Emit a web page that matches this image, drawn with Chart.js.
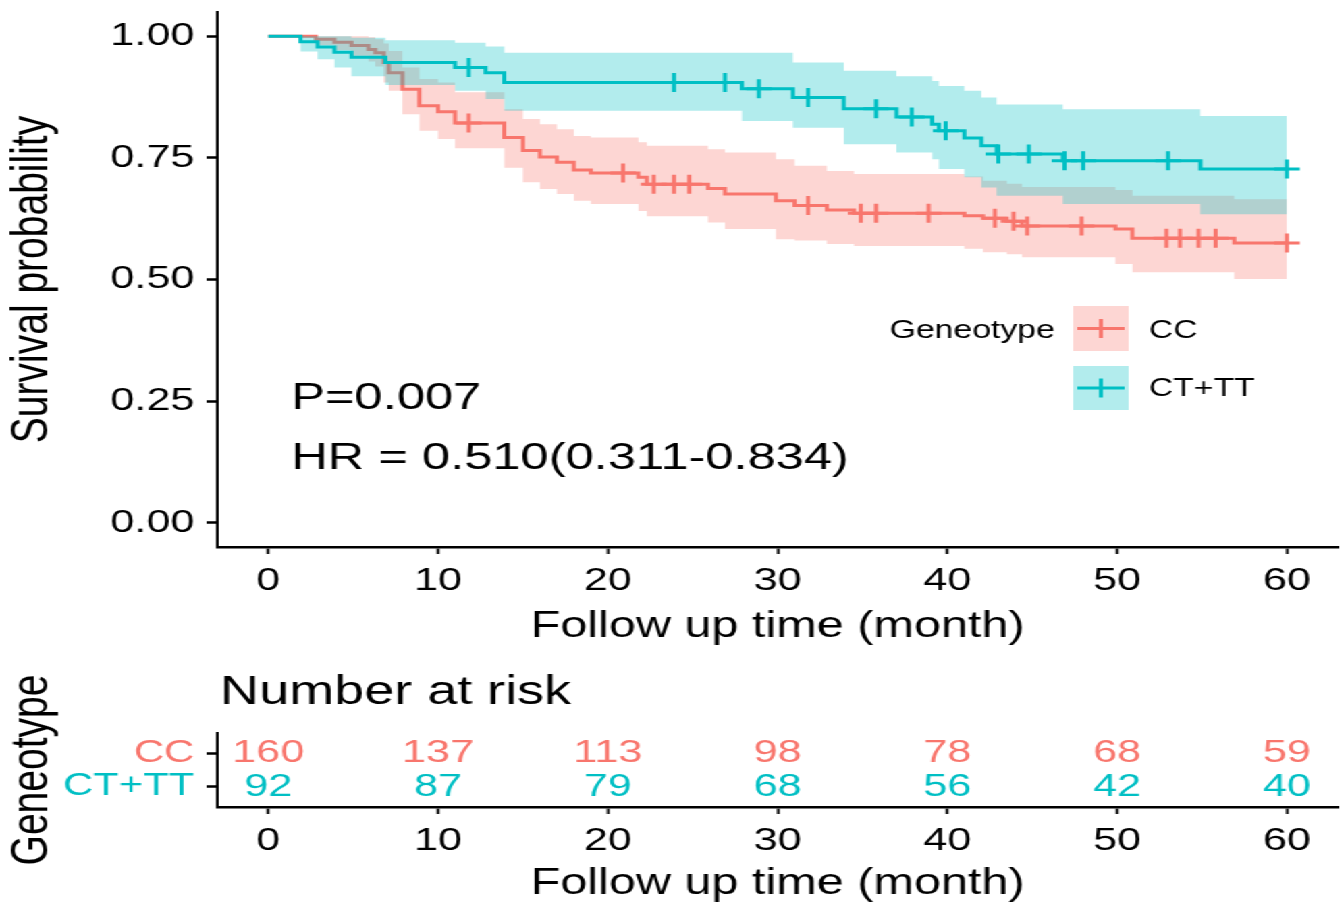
<!DOCTYPE html>
<html>
<head>
<meta charset="utf-8">
<title>Survival by genotype</title>
<script src="https://cdn.jsdelivr.net/npm/chart.js@4.4.1/dist/chart.umd.min.js"></script>
<style>
  html, body { margin: 0; padding: 0; background: #fff; overflow: hidden; }
  /* drawn narrow, then widened to the page width */
  #figure { width: 993px; height: 907px; transform: scaleX(1.35); transform-origin: 0 0; }
  #kmBox { position: relative; width: 993px; height: 650px; }
  #riskBox { position: relative; width: 993px; height: 257px; }
</style>
</head>
<body>
<div id="figure">
  <div id="kmBox"><canvas id="kmChart"></canvas></div>
  <div id="riskBox"><canvas id="riskChart"></canvas></div>
</div>
<script>
// axis ticks
const months = [0, 10, 20, 30, 40, 50, 60];
const survTicks = [0, 0.25, 0.5, 0.75, 1];
const groupLabels = ['CC', 'CT+TT'];

// CC: Kaplan-Meier steps with 95% band
const ccTimes = [0, 2.8, 3.9, 4.9, 5.9, 6.3, 6.8, 7.1, 7.9, 8.9, 10.0, 11.0, 13.9, 15.0, 16.0, 17.0, 18.0, 19.0, 21.8, 22.3,
  25.9, 26.9, 29.9, 31.0, 32.9, 34.5, 41.0, 42.1, 43.5, 44.4, 49.9, 50.9, 56.9, 60];
const ccSurv = [1, .994, .988, .981, .973, .966, .946, .925, .891, .857, .845, .822, .792, .765, .752, .741, .725, .719, .710, .696,
  .687, .676, .662, .652, .643, .636, .631, .626, .620, .610, .604, .585, .575, .575];
const ccLower = [1, .982, .972, .960, .948, .938, .905, .888, .840, .806, .789, .770, .730, .700, .686, .676, .662, .655, .641, .630,
  .617, .604, .583, .580, .573, .569, .563, .556, .552, .546, .532, .515, .501, .501];
const ccUpper = [1, 1, 1, 1, .998, .994, .985, .970, .936, .912, .905, .885, .850, .830, .819, .809, .795, .792, .782, .775,
  .768, .761, .747, .734, .723, .717, .712, .703, .697, .690, .684, .672, .665, .665];
const ccCensored = [11.8, 20.9, 22.7, 23.9, 24.8, 31.8, 34.9, 35.8, 38.9, 42.8, 43.9, 44.7, 47.9, 52.9, 53.7, 54.8, 55.8, 60];

// CT+TT
const ttTimes = [0, 1.9, 2.9, 3.9, 4.9, 6.9, 11.0, 12.8, 13.9, 27.9, 30.9, 33.9, 37.0, 39.1, 39.5, 41.0, 42.0, 42.9, 46.8, 54.9, 60];
const ttSurv = [1, .989, .978, .967, .957, .946, .936, .925, .905, .892, .874, .851, .834, .819, .806, .791, .775, .758, .744, .727, .727];
const ttLower = [1, .969, .953, .936, .918, .900, .888, .871, .847, .826, .812, .778, .761, .747, .727, .710, .689, .672, .655, .634, .634];
const ttUpper = [1, 1, 1, 1, .997, .992, .987, .979, .966, .966, .946, .929, .918, .908, .898, .888, .874, .860, .850, .836, .836];
const ttCensored = [11.8, 23.9, 26.9, 28.9, 31.8, 35.8, 37.9, 39.9, 43.0, 44.8, 46.9, 48.0, 53.0, 60];

// number at risk at each month tick
const ccAtRisk = [160, 137, 113, 98, 78, 68, 59];
const ttAtRisk = [92, 87, 79, 68, 56, 42, 40];

const pValueText = 'P=0.007';
const hrText = 'HR = 0.510(0.311-0.834)';

const RED = '#F8766D', TEAL = '#00BFC4';
const RED_BAND = 'rgba(248,118,109,0.3)', TEAL_BAND = 'rgba(0,191,196,0.3)';
const FONT = '"Liberation Sans", Arial, Helvetica, sans-serif';

Chart.defaults.font.family = FONT;
Chart.defaults.color = '#000';

function toPoints(times, values) {
  return times.map((t, i) => ({ x: t, y: values[i] }));
}

// a censor mark sits on the curve level in force at that time
function survAt(times, surv, t) {
  let v = surv[0];
  for (let i = 0; i < times.length; i++) {
    if (times[i] <= t) v = surv[i];
  }
  return v;
}

function censorPoints(times, surv, marks) {
  return marks.map(t => ({ x: t, y: survAt(times, surv, t) }));
}

function stepLine(label, pts, color, order) {
  return { label, data: pts, borderColor: color, borderWidth: 3, stepped: 'before', pointRadius: 0, fill: false, order };
}

function censorSet(pts, color, order) {
  return {
    data: pts, showLine: false, pointStyle: 'cross', pointRadius: 9.5, pointBorderWidth: 3,
    borderColor: color, pointBorderColor: color, order
  };
}

function bandEdge(pts, order, fillColor) {
  return {
    data: pts, borderWidth: 0, borderColor: 'rgba(0,0,0,0)', pointRadius: 0, stepped: 'before',
    fill: fillColor ? '-1' : false, backgroundColor: fillColor || 'rgba(0,0,0,0)', order
  };
}

// P value, hazard ratio and the inside legend
const kmExtras = {
  id: 'kmExtras',
  afterDraw(chart) {
    const { ctx, scales: { x, y } } = chart;
    ctx.save();
    ctx.fillStyle = '#000';
    ctx.textBaseline = 'middle';
    ctx.textAlign = 'left';
    ctx.font = '37.5px ' + FONT;
    ctx.fillText(pValueText, x.getPixelForValue(1.35), y.getPixelForValue(0.255));
    ctx.fillText(hrText, x.getPixelForValue(1.35), y.getPixelForValue(0.131));

    ctx.font = '25px ' + FONT;
    ctx.fillText('Geneotype', 659, 331);
    const keys = [
      { label: groupLabels[0], color: RED, band: RED_BAND, top: 306, h: 45, textY: 331 },
      { label: groupLabels[1], color: TEAL, band: TEAL_BAND, top: 366, h: 44, textY: 389 }
    ];
    keys.forEach(k => {
      const left = 795, w = 41;
      const cy = k.top + k.h / 2, cx = left + w / 2;
      ctx.fillStyle = k.band;
      ctx.fillRect(left, k.top, w, k.h);
      ctx.strokeStyle = k.color;
      ctx.lineWidth = 3;
      ctx.beginPath();
      ctx.moveTo(left + 3, cy);
      ctx.lineTo(left + w - 3, cy);
      ctx.moveTo(cx, cy - 9.5);
      ctx.lineTo(cx, cy + 9.5);
      ctx.stroke();
      ctx.fillStyle = '#000';
      ctx.fillText(k.label, 851, k.textY);
    });
    ctx.restore();
  }
};

new Chart(document.getElementById('kmChart'), {
  type: 'line',
  data: {
    datasets: [
      stepLine(groupLabels[1], toPoints(ttTimes, ttSurv), TEAL, 0),
      censorSet(censorPoints(ttTimes, ttSurv, ttCensored), TEAL, 0),
      bandEdge(toPoints(ttTimes, ttLower), 1),
      bandEdge(toPoints(ttTimes, ttUpper), 1, TEAL_BAND),
      stepLine(groupLabels[0], toPoints(ccTimes, ccSurv), RED, 2),
      censorSet(censorPoints(ccTimes, ccSurv, ccCensored), RED, 2),
      bandEdge(toPoints(ccTimes, ccLower), 3),
      bandEdge(toPoints(ccTimes, ccUpper), 3, RED_BAND)
    ]
  },
  options: {
    responsive: true,
    maintainAspectRatio: false,
    animation: false,
    events: [],
    layout: { autoPadding: false, padding: { top: 12, right: 2, bottom: 0, left: 0 } },
    plugins: { legend: { display: false }, tooltip: { enabled: false } },
    scales: {
      x: {
        type: 'linear', min: -3, max: 63,
        afterBuildTicks: s => { s.ticks = months.map(v => ({ value: v })); },
        afterFit: s => { s.height = 103; s.paddingLeft = 0; s.paddingRight = 0; },
        ticks: { font: { size: 32 }, color: '#000', padding: 8, maxRotation: 0, autoSkip: false },
        grid: { drawOnChartArea: false, drawTicks: true, tickLength: 7, tickWidth: 2, tickColor: '#000' },
        border: { display: true, color: '#000', width: 2.6 },
        title: { display: true, text: 'Follow up time (month)', font: { size: 36 }, color: '#000', padding: { top: 0, bottom: 1.2 } }
      },
      y: {
        type: 'linear', min: -0.05, max: 1.05,
        afterBuildTicks: s => { s.ticks = survTicks.map(v => ({ value: v })); },
        afterFit: s => { s.width = 161; s.paddingTop = 0; s.paddingBottom = 0; },
        ticks: { font: { size: 32 }, color: '#000', padding: 9, autoSkip: false, callback: v => Number(v).toFixed(2) },
        grid: { drawOnChartArea: false, drawTicks: true, tickLength: 8, tickWidth: 2.5, tickColor: '#000' },
        border: { display: true, color: '#000', width: 2 },
        title: { display: true, text: 'Survival probability', font: { size: 39 }, color: '#000', padding: { top: 1, bottom: 0 } }
      }
    }
  },
  plugins: [kmExtras]
});

// risk table: counts written at each month, one row per group
const riskRows = [
  { row: 2, counts: ccAtRisk, color: RED },
  { row: 1, counts: ttAtRisk, color: TEAL }
];

const riskExtras = {
  id: 'riskExtras',
  afterDatasetsDraw(chart) {
    const { ctx } = chart;
    ctx.save();
    ctx.textAlign = 'center';
    ctx.textBaseline = 'middle';
    ctx.font = '32px ' + FONT;
    riskRows.forEach((r, i) => {
      const meta = chart.getDatasetMeta(i);
      ctx.fillStyle = r.color;
      meta.data.forEach((pt, j) => ctx.fillText(String(r.counts[j]), pt.x, pt.y));
    });
    ctx.textAlign = 'left';
    ctx.fillStyle = '#000';
    ctx.font = '40px ' + FONT;
    ctx.fillText('Number at risk', chart.chartArea.left + 2, 43);
    ctx.restore();
  }
};

new Chart(document.getElementById('riskChart'), {
  type: 'scatter',
  data: {
    datasets: riskRows.map(r => ({
      data: months.map(m => ({ x: m, y: r.row })),
      pointRadius: 0
    }))
  },
  options: {
    responsive: true,
    maintainAspectRatio: false,
    animation: false,
    events: [],
    layout: { autoPadding: false, padding: { top: 83, right: 2, bottom: 0, left: 0 } },
    plugins: { legend: { display: false }, tooltip: { enabled: false } },
    scales: {
      x: {
        type: 'linear', min: -3, max: 63,
        afterBuildTicks: s => { s.ticks = months.map(v => ({ value: v })); },
        afterFit: s => { s.height = 100; s.paddingLeft = 0; s.paddingRight = 0; },
        ticks: { font: { size: 32 }, color: '#000', padding: 8, maxRotation: 0, autoSkip: false },
        grid: { drawOnChartArea: false, drawTicks: true, tickLength: 7, tickWidth: 2, tickColor: '#000' },
        border: { display: true, color: '#000', width: 2.6 },
        title: { display: true, text: 'Follow up time (month)', font: { size: 36 }, color: '#000', padding: { top: 0, bottom: 1.2 } }
      },
      y: {
        type: 'linear', min: 0.4, max: 2.6,
        afterBuildTicks: s => { s.ticks = riskRows.map(r => ({ value: r.row })); },
        afterFit: s => { s.width = 161; s.paddingTop = 0; s.paddingBottom = 0; },
        ticks: {
          font: { size: 31 }, padding: 9, autoSkip: false,
          color: c => (c.tick && c.tick.value === 2 ? RED : TEAL),
          callback: v => (v === 2 ? groupLabels[0] : groupLabels[1])
        },
        grid: { drawOnChartArea: false, drawTicks: true, tickLength: 8, tickWidth: 2.5, tickColor: '#000' },
        border: { display: true, color: '#000', width: 2 },
        title: { display: true, text: 'Geneotype', font: { size: 39 }, color: '#000', padding: { top: 1, bottom: 0 } }
      }
    }
  },
  plugins: [riskExtras]
});
</script>
</body>
</html>
